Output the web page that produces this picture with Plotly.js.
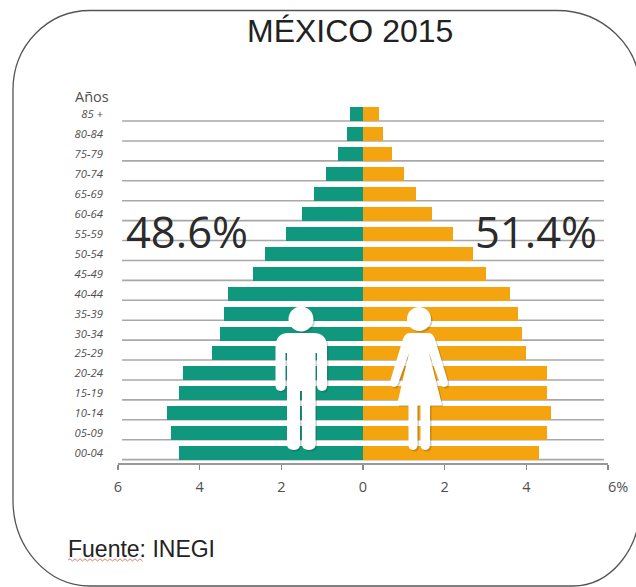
<!DOCTYPE html>
<html>
<head>
<meta charset="utf-8">
<script src="https://cdn.plot.ly/plotly-3.0.1.min.js"></script>
<style>html,body{margin:0;padding:0;background:#fff}#c{width:636px;height:587px}</style>
</head>
<body>
<div id="c"></div>
<script>
// Data, bottom to top
var ageGroups = ['00-04','05-09','10-14','15-19','20-24','25-29','30-34','35-39','40-44','45-49','50-54','55-59','60-64','65-69','70-74','75-79','80-84','85 +'];
var men   = [4.51,4.71,4.81,4.51,4.42,3.71,3.51,3.41,3.31,2.69,2.40,1.89,1.50,1.21,0.91,0.62,0.40,0.33];
var women = [4.3,4.5,4.6,4.5,4.5,4.0,3.9,3.8,3.6,3.0,2.7,2.2,1.7,1.3,1.0,0.7,0.5,0.4];
var xTickVals = [-6,-4,-2,0,2,4,6];
var xTickText = ['6','4','2','0','2','4',''];
var titleText = 'MÉXICO 2015';
var menShare = '48.6%';
var womenShare = '51.4%';
var sourceWord = 'Fuente: INEGI';

var W = 636, H = 587;
var px = function (x) { return (x / W).toFixed(4); };
var py = function (y) { return (1 - y / H).toFixed(4); };
// Convert a path written in page pixels ("x,y" pairs) to paper fractions
function pagePath(s) {
  return s.replace(/(-?[\d.]+),(-?[\d.]+)/g, function (m, a, b) { return px(+a) + ',' + py(+b); });
}
function head(cx, cy, r) {
  var k = r * 0.5523;
  return 'M' + (cx - r) + ',' + cy +
    ' C' + (cx - r) + ',' + (cy - k) + ' ' + (cx - k) + ',' + (cy - r) + ' ' + cx + ',' + (cy - r) +
    ' C' + (cx + k) + ',' + (cy - r) + ' ' + (cx + r) + ',' + (cy - k) + ' ' + (cx + r) + ',' + cy +
    ' C' + (cx + r) + ',' + (cy + k) + ' ' + (cx + k) + ',' + (cy + r) + ' ' + cx + ',' + (cy + r) +
    ' C' + (cx - k) + ',' + (cy + r) + ' ' + (cx - r) + ',' + (cy + k) + ' ' + (cx - r) + ',' + cy + ' Z';
}
var manBody = 'M289,333 L313,333 Q327,333 327,347 L327,385 Q327,391 322,391 Q317,391 317,385 L317,353 L315.5,353 L315.5,444 Q315.5,450 309,450 Q302,450 302,444 L302,391 L300,391 L300,444 Q300,450 294,450 Q287,450 287,444 L287,353 L285.5,353 L285.5,385 Q285.5,391 280.5,391 Q275.5,391 275.5,385 L275.5,347 Q275.5,333 289,333 Z';
var womanBody = 'M410,333 L428,333 Q433,333 435,339 L447.5,380 Q449,387 444,387 Q441,387 439.5,382 L429,353 L442,405 L430,405 L430,444 Q430,450 425,450 Q420.5,450 420.5,444 L420.5,405 L417.5,405 L417.5,444 Q417.5,450 413,450 Q408.5,450 408.5,444 L408.5,405 L397,405 L409,353 L398.5,382 Q397,387 394,387 Q389,387 390.5,380 L403,339 Q405,333 410,333 Z';
function shift(path, d) {
  return path.replace(/(-?[\d.]+),(-?[\d.]+)/g, function (m, a, b) { return (+a + d) + ',' + (+b + d); });
}
function figure(path) {
  return [
    {type:'path', xref:'paper', yref:'paper', layer:'above', path:pagePath(shift(path,1.5)), fillcolor:'rgba(40,40,40,0.22)', line:{width:0}},
    {type:'path', xref:'paper', yref:'paper', layer:'above', path:pagePath(path), fillcolor:'#ffffff', line:{width:0}}
  ];
}
var shapes = [];
// light gridlines under each bar
ageGroups.forEach(function (g, i) {
  shapes.push({type:'line', xref:'x', yref:'y', layer:'below', x0:-5.9, x1:5.9, y0:i-0.33, y1:i-0.33, line:{color:'#a8a8a8', width:1.6}});
});
// rounded frame
shapes.push({type:'path', xref:'paper', yref:'paper', layer:'above',
  path: pagePath('M90,10.5 L557,10.5 C603,10.5 640,46 640,90 L640,506 C640,550 610,586 573,586 L90,586 C47,586 13,547 13,500 L13,90 C13,46 47,10.5 90,10.5 Z'),
  line:{color:'#555555', width:1.3}, fillcolor:'rgba(0,0,0,0)'});
shapes = shapes.concat(figure(head(301,319,12.5)), figure(manBody), figure(head(419,319,12)), figure(womanBody));
// spell-check squiggle beneath the first word of the source note
var sq = 'M68,560', up = true;
for (var sx = 70; sx <= 144; sx += 2.5) { sq += ' L' + sx + ',' + (up ? 558.8 : 561); up = !up; }
shapes.push({type:'path', xref:'paper', yref:'paper', layer:'above', path:pagePath(sq), line:{color:'#c8605a', width:0.8}, fillcolor:'rgba(0,0,0,0)'});

var barY = ageGroups.map(function (g, i) { return i; });
var traces = [
  {type:'bar', orientation:'h', name:'Hombres', y:barY, x:men.map(function (v) { return -v; }), width:0.7, marker:{color:'#10987F', line:{width:0}}, hoverinfo:'skip'},
  {type:'bar', orientation:'h', name:'Mujeres', y:barY, x:women, width:0.7, marker:{color:'#F4A40F', line:{width:0}}, hoverinfo:'skip'}
];
var ann = function (t, x, y, size, color, fam, anchor, extra) {
  return Object.assign({text:t, xref:'paper', yref:'paper', x:x/W, y:1-y/H, showarrow:false, xanchor:anchor||'center', yanchor:'middle', font:{size:size, color:color, family:fam}}, extra||{});
};
var sans = 'Open Sans', ari = 'Liberation Sans';
var layout = {
  width:W, height:H, margin:{l:0,r:0,t:0,b:0}, paper_bgcolor:'#ffffff', plot_bgcolor:'rgba(0,0,0,0)',
  showlegend:false, barmode:'overlay', bargap:0,
  xaxis:{domain:[118/W,608/W], range:[-6,6], tickmode:'array', tickvals:xTickVals, ticktext:xTickText, zeroline:false, showgrid:false,
    showline:true, linecolor:'#999999', linewidth:1.6, ticks:'outside', ticklen:5, tickwidth:1.5, tickcolor:'#888888',
    tickfont:{family:sans, size:14.5, color:'#505050'}, anchor:'y', ticklabelstandoff:5, fixedrange:true},
  yaxis:{domain:[1-463/H,1-104.5/H], range:[-0.5,17.5], tickmode:'array', tickvals:barY, ticktext:ageGroups, zeroline:false, showgrid:false,
    showline:false, ticks:'', tickfont:{family:sans, size:11.3, color:'#505050', style:'italic'}, anchor:'x', ticklabelstandoff:14, fixedrange:true},
  shapes:shapes,
  annotations:[
    ann(titleText, 350, 31, 32, '#222222', ari),
    ann('Años', 91.5, 96, 14.5, '#505050', sans),
    ann(menShare, 187, 232, 43.5, '#2b2b2b', sans),
    ann(womenShare, 536, 232, 43.5, '#2b2b2b', sans),
    ann('6%', 618, 486, 14.5, '#505050', sans),
    ann(sourceWord, 66, 549, 23, '#222222', ari, 'left')
  ]
};
Plotly.newPlot('c', traces, layout, {staticPlot:true, displayModeBar:false});
</script>
</body>
</html>
